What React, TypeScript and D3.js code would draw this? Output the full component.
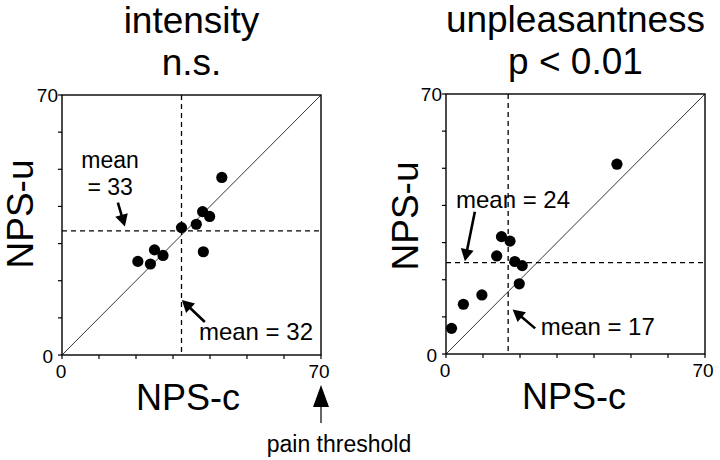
import React from "react";
import * as d3 from "d3";

// ---- data ----
const intensityC = [20.5, 23.9, 25.0, 27.3, 32.3, 36.3, 38.0, 39.9, 38.2, 43.2];
const intensityU = [25.2, 24.5, 28.3, 26.8, 34.3, 35.2, 38.6, 37.3, 27.8, 47.8];
const unpleasC = [1.5, 4.7, 9.7, 13.7, 15.0, 17.3, 18.6, 20.6, 19.8, 46.2];
const unpleasU = [6.9, 13.4, 15.9, 26.4, 31.6, 30.4, 24.9, 23.8, 18.9, 51.1];
const intensityMeans = [32.3, 33.4]; // [NPS-c, NPS-u]
const unpleasMeans = [16.8, 24.6];
const titles = [["intensity", "n.s."], ["unpleasantness", "p < 0.01"]];
const axisMax = 70;
const tickValues = [0, 10, 20, 30, 40, 50, 60, 70];
const xLabel = "NPS-c";
const yLabel = "NPS-u";
const painLabel = "pain threshold";

const FONT = "'Liberation Sans', Arial, Helvetica, sans-serif";

type Ann = { lines: string[]; tx: number; ty: number; anchor: string; tail: [number, number]; tip: [number, number] };

function Arrow({ tail, tip, L = 12, W = 6.5, sw = 2.6 }: { tail: [number, number]; tip: [number, number]; L?: number; W?: number; sw?: number }) {
  const dx = tip[0] - tail[0];
  const dy = tip[1] - tail[1];
  const len = Math.hypot(dx, dy);
  const ux = dx / len, uy = dy / len;
  const bx = tip[0] - ux * L, by = tip[1] - uy * L;
  const nx = -uy, ny = ux;
  const pts = [[tip[0], tip[1]], [bx + nx * W, by + ny * W], [bx - nx * W, by - ny * W]];
  return (
    <g>
      <line x1={tail[0]} y1={tail[1]} x2={bx + ux * 2} y2={by + uy * 2} stroke="#000" strokeWidth={sw} />
      <polygon points={pts.map((p) => p.join(",")).join(" ")} fill="#000" />
    </g>
  );
}

function Panel({ left, top, size, cx, cy, means, title, anns, yLabelX, yLabelY, xLabelX, showPain }: any) {
  const x = d3.scaleLinear().domain([0, axisMax]).range([left, left + size]);
  const y = d3.scaleLinear().domain([0, axisMax]).range([top + size + 1, top]);
  const bottom = y(0);
  const midX = (x(0) + x(axisMax)) / 2;
  return (
    <g fontFamily={FONT}>
      <text x={midX} y={top - 62} textAnchor="middle" fontSize={37}>{title[0]}</text>
      <text x={midX} y={top - 20} textAnchor="middle" fontSize={37}>{title[1]}</text>
      {/* diagonal */}
      <line x1={x(0)} y1={y(0)} x2={x(axisMax)} y2={y(axisMax)} stroke="#000" strokeWidth={0.8} />
      {/* mean lines */}
      <line x1={x(means[0])} y1={y(axisMax)} x2={x(means[0])} y2={y(0)} stroke="#000" strokeWidth={1.3} strokeDasharray="5,4" />
      <line x1={x(0)} y1={y(means[1])} x2={x(axisMax)} y2={y(means[1])} stroke="#000" strokeWidth={1.3} strokeDasharray="5,4" />
      {/* box */}
      <rect x={x(0)} y={y(axisMax)} width={x(axisMax) - x(0)} height={y(0) - y(axisMax)} fill="none" stroke="#000" strokeWidth={1.4} />
      {/* ticks */}
      {tickValues.map((t) => (
        <g key={"t" + t}>
          <line x1={x(0) - 4} x2={x(0)} y1={y(t)} y2={y(t)} stroke="#000" strokeWidth={1.2} />
          <line x1={x(t)} x2={x(t)} y1={bottom} y2={bottom + 4} stroke="#000" strokeWidth={1.2} />
        </g>
      ))}
      {/* tick labels */}
      <text x={x(0) - 4} y={y(axisMax)} dy="0.36em" textAnchor="end" fontSize={19}>{axisMax}</text>
      <text x={x(0) - 9} y={y(0) + 1} dy="0.36em" textAnchor="end" fontSize={19}>0</text>
      <text x={x(0) - 1} y={bottom + 23} textAnchor="middle" fontSize={19}>0</text>
      <text x={x(axisMax) - 2} y={bottom + 23} textAnchor="middle" fontSize={19}>{axisMax}</text>
      {/* axis labels */}
      <text transform={`translate(${yLabelX},${yLabelY}) rotate(-90)`} textAnchor="middle" fontSize={37}>{yLabel}</text>
      <text x={xLabelX} y={bottom + 55} textAnchor="middle" fontSize={36}>{xLabel}</text>
      {/* points */}
      {cx.map((v: number, i: number) => (
        <circle key={i} cx={x(v)} cy={y(cy[i])} r={5.6} fill="#000" />
      ))}
      {/* annotations */}
      {anns.map((a: Ann, i: number) => (
        <g key={"a" + i}>
          {a.lines.map((l, j) => (
            <text key={j} x={x(a.tx)} y={y(a.ty) + j * 27} textAnchor={a.anchor} fontSize={a.lines.length > 1 ? 23 : 24}>{l}</text>
          ))}
          <Arrow tail={[x(a.tail[0]), y(a.tail[1])]} tip={[x(a.tip[0]), y(a.tip[1])]} />
        </g>
      ))}
      {showPain && (
        <g>
          <Arrow tail={[x(axisMax), bottom + 68]} tip={[x(axisMax), bottom + 30]} L={22} W={8} sw={1.2} />
          <text x={x(axisMax) + 18} y={bottom + 97} textAnchor="middle" fontSize={23}>{painLabel}</text>
        </g>
      )}
    </g>
  );
}

export default function App() {
  const leftAnns: Ann[] = [
    { lines: ["mean", "= 33"], tx: 13.0, ty: 50.4, anchor: "middle", tail: [15.1, 41.0], tip: [17.0, 34.6] },
    { lines: ["mean = 32"], tx: 37.0, ty: 4.0, anchor: "start", tail: [38.6, 8.9], tip: [32.4, 14.8] },
  ];
  const rightAnns: Ann[] = [
    { lines: ["mean = 24"], tx: 2.7, ty: 39.3, anchor: "start", tail: [7.8, 38.3], tip: [5.1, 25.0] },
    { lines: ["mean = 17"], tx: 25.6, ty: 5.1, anchor: "start", tail: [24.1, 6.9], tip: [18.0, 12.0] },
  ];
  return (
    <svg width={720} height={460} style={{ position: "absolute", left: 0, top: 0, background: "#fff" }}>
      <rect width={720} height={460} fill="#fff" />
      <Panel left={62} top={95} size={259} cx={intensityC} cy={intensityU} means={intensityMeans} title={titles[0]}
        anns={leftAnns} yLabelX={33} yLabelY={214} xLabelX={188} showPain={true} />
      <Panel left={446} top={94} size={259} cx={unpleasC} cy={unpleasU} means={unpleasMeans} title={titles[1]}
        anns={rightAnns} yLabelX={418} yLabelY={216} xLabelX={574} showPain={false} />
    </svg>
  );
}
